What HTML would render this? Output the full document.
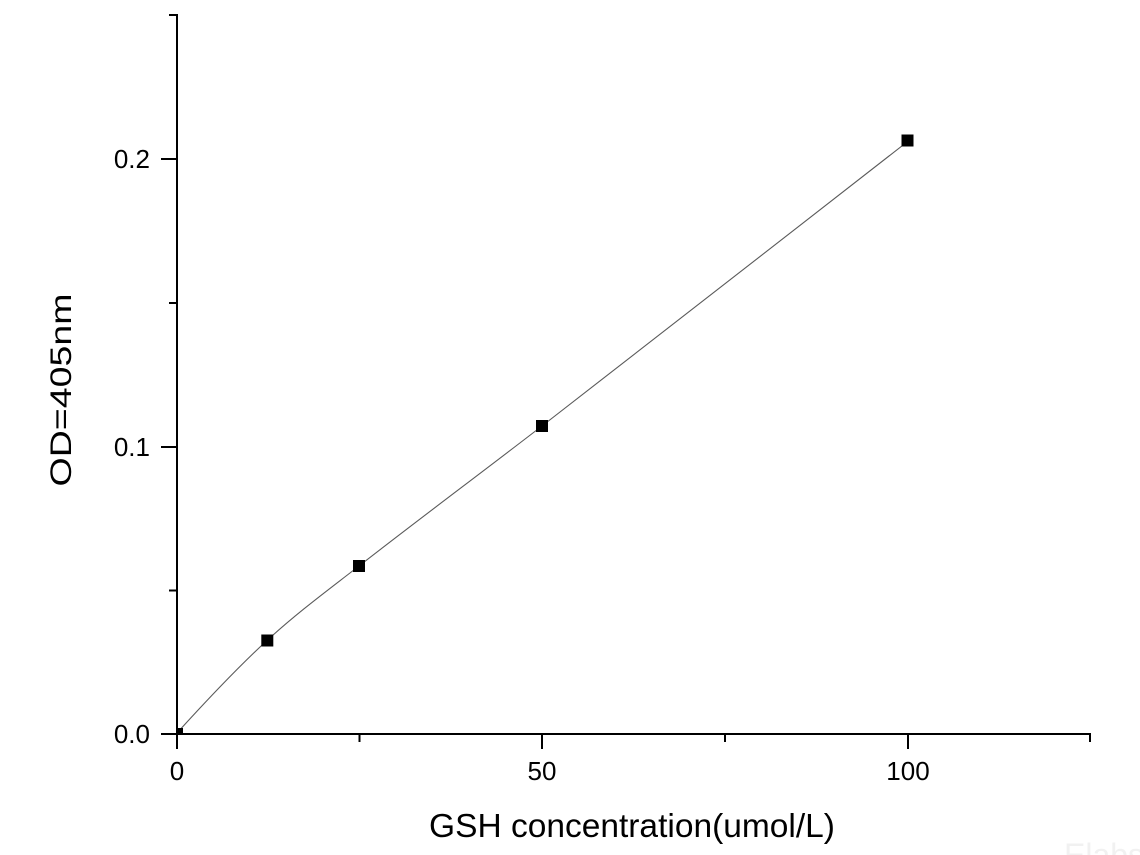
<!DOCTYPE html>
<html>
<head>
<meta charset="utf-8">
<style>
  html, body { margin: 0; padding: 0; background: #ffffff; }
  body { width: 1140px; height: 855px; overflow: hidden; }
  svg { display: block; }
  text { font-family: "Liberation Sans", Arial, sans-serif; fill: #000; }
</style>
</head>
<body>
<svg width="1140" height="855" viewBox="0 0 1140 855" xmlns="http://www.w3.org/2000/svg">
  <defs>
    <clipPath id="plot">
      <rect x="177" y="10" width="920" height="724"/>
    </clipPath>
  </defs>
  <rect x="0" y="0" width="1140" height="855" fill="#ffffff"/>

  <!-- fitted curve -->
  <path clip-path="url(#plot)" d="M177,733 C207,700 237,668.1 267,640.5 C297.7,612.3 328.3,589.9 359,566 C420,518.4 481,473.1 542,426 C663.7,332.1 785.3,236.7 907,142"
        fill="none" stroke="#5a5a5a" stroke-width="1.1"/>

  <!-- data markers -->
  <g fill="#000" clip-path="url(#plot)">
    <rect x="171" y="728" width="12" height="12"/>
    <rect x="261.3" y="634.5" width="12" height="12"/>
    <rect x="353" y="560" width="12" height="12"/>
    <rect x="536" y="420" width="12" height="12"/>
    <rect x="901.5" y="134.5" width="12" height="12"/>
  </g>

  <!-- axes -->
  <g stroke="#000" stroke-width="2" fill="none" stroke-linecap="square">
    <line x1="177" y1="15" x2="177" y2="734"/>
    <line x1="177" y1="734" x2="1090" y2="734"/>
    <!-- y major ticks -->
    <line x1="162" y1="734" x2="177" y2="734"/>
    <line x1="162" y1="447" x2="177" y2="447"/>
    <line x1="162" y1="159" x2="177" y2="159"/>
    <!-- y minor ticks -->
    <line x1="170" y1="590.5" x2="177" y2="590.5"/>
    <line x1="170" y1="303" x2="177" y2="303"/>
    <line x1="170" y1="15" x2="177" y2="15"/>
    <!-- x major ticks -->
    <line x1="177" y1="734" x2="177" y2="748"/>
    <line x1="542" y1="734" x2="542" y2="748"/>
    <line x1="908" y1="734" x2="908" y2="748"/>
    <!-- x minor ticks -->
    <line x1="359.5" y1="734" x2="359.5" y2="741"/>
    <line x1="725" y1="734" x2="725" y2="741"/>
    <line x1="1090" y1="734" x2="1090" y2="741"/>
  </g>

  <!-- y tick labels -->
  <g font-size="26" text-anchor="end">
    <text x="150" y="743">0.0</text>
    <text x="150" y="456">0.1</text>
    <text x="150" y="168">0.2</text>
  </g>
  <!-- x tick labels -->
  <g font-size="26" text-anchor="middle">
    <text x="177" y="780">0</text>
    <text x="542" y="780">50</text>
    <text x="908" y="780">100</text>
  </g>

  <!-- axis titles -->
  <text x="632" y="837" font-size="33.5" text-anchor="middle">GSH concentration(umol/L)</text>
  <text transform="translate(71,390) rotate(-90)" font-size="30" text-anchor="middle" textLength="193" lengthAdjust="spacingAndGlyphs">OD=405nm</text>

  <!-- faint watermark -->
  <text x="1064" y="866" font-size="32" style="fill:#f1f1f1">Elabs</text>
</svg>
</body>
</html>
